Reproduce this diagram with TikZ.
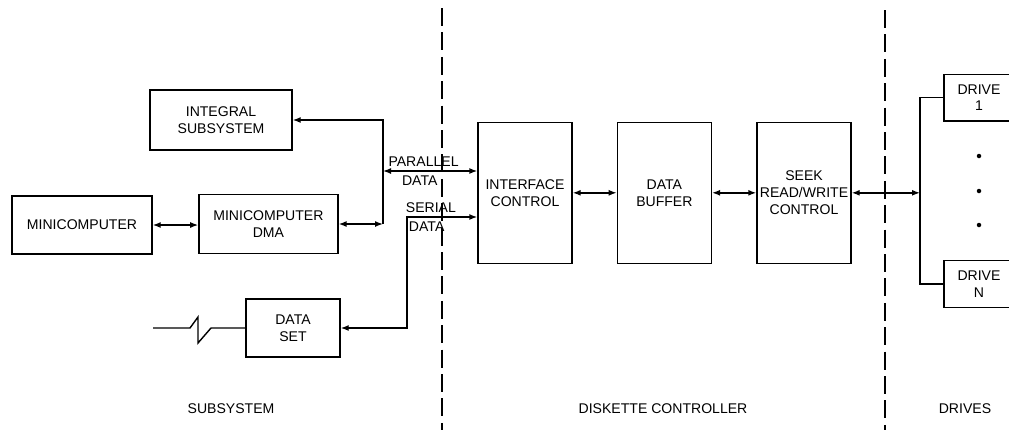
\documentclass[tikz,border=0pt]{standalone}
\usepackage{fontspec}
\setmainfont{Liberation Sans}
\usetikzlibrary{arrows.meta,positioning}

\begin{document}
\begin{tikzpicture}[x=1cm, y=1cm, line width=1pt, >={Latex[length=2mm,width=1.5mm]}, every node/.style={font=\fontsize{10}{12}\selectfont}, box/.style={draw, inner sep=1pt, align=center}, ctl/.style={box, minimum width=2.35cm, minimum height=3.53cm}, drv/.style={box, minimum width=1.75cm, minimum height=1.17cm}, arr/.style={<->}, bound/.style={dash pattern=on 4.5mm off 1.6mm, line width=0.8pt}]
\useasboundingbox (0,0) rectangle (25.225,-10.9);
% subsystem side
\node[box, minimum width=3.55cm, minimum height=1.5cm] (integral) at (5.525,-3.0) {INTEGRAL\\SUBSYSTEM};
\node[box, minimum width=3.5cm, minimum height=1.45cm] (mini) at (2.05,-5.625) {MINICOMPUTER};
\node[box, minimum width=3.475cm, minimum height=1.475cm] (dma) at (6.71,-5.6) {MINICOMPUTER\\DMA};
\node[box, minimum width=2.35cm, minimum height=1.45cm] (ds) at (7.325,-8.2) {DATA\\SET};
% diskette controller
\node[ctl] (ic) at (13.125,-4.82) {INTERFACE\\CONTROL};
\node[ctl] (db) at (16.61,-4.82) {DATA\\BUFFER};
\node[ctl] (seek) at (20.1,-4.82) {SEEK\\READ/WRITE\\CONTROL};
% drives
\node[drv] (drv1) at (24.475,-2.44) {DRIVE\\1};
\node[drv] (drvN) at (24.475,-7.1) {DRIVE\\N};
\foreach \y in {-3.9,-4.775,-5.625} \fill (24.475,\y) circle (1.6pt);
% bus and junction points
\coordinate (bus) at (9.575,-4.275);
\coordinate (ser) at (10.175,-5.425);
\coordinate (dbus) at (23.0,-4.775);
\coordinate (line) at (3.825,-8.2);
\draw[arr] (mini.east) -- (mini.east -| dma.west);
\draw[arr] (dma.east) -- (dma.east -| bus);
\draw[->] (dma.east -| bus) -- (bus |- integral.east) -- (integral.east);
\draw[arr] (bus) -- (bus -| ic.west) node[pos=0.43, above, inner sep=2.5pt] (par) {PARALLEL} node[pos=0.39, below, inner sep=3pt] (pard) {DATA};
\draw[arr] (ds.east) -| (ser) -- (ser -| ic.west) node[pos=0.34, above, inner sep=2.5pt] (sr) {SERIAL} node[pos=0.28, below, inner sep=3pt] (srd) {DATA};
\draw (line) -- ++(0.925,0) -- ++(0.2,0.275) -- ++(0,-0.65) -- ++(0.325,0.375) -- (ds.west);
\draw[arr] (ic) -- (db);
\draw[arr] (db) -- (seek);
\draw[arr] (seek.east) -- (seek.east -| dbus);
\draw (drv1.west) -| (dbus) |- (drvN.west);
% section boundaries and titles
\draw[bound] (11.05,-0.2) -- (11.05,-10.75);
\draw[bound] (22.125,-0.25) -- (22.125,-10.75);
\node (lsub) at (5.775,-10.22) {SUBSYSTEM};
\node (lctl) at (16.575,-10.22) {DISKETTE CONTROLLER};
\node (ldrv) at (24.125,-10.22) {DRIVES};
\end{tikzpicture}
\end{document}
